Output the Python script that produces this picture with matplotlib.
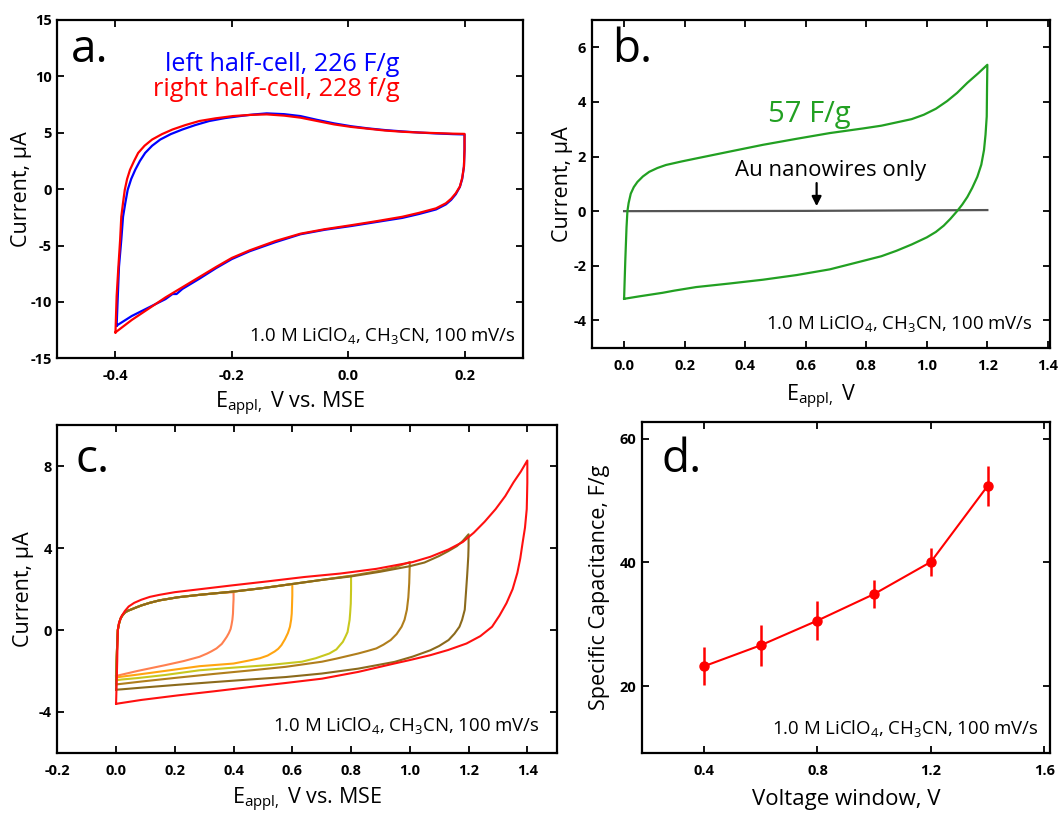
import numpy as np
import matplotlib
matplotlib.use('Agg')
import matplotlib.pyplot as plt

plt.rcParams['font.family'] = ['Open Sans', 'DejaVu Sans']
plt.rcParams['mathtext.fontset'] = 'custom'
plt.rcParams['mathtext.rm'] = 'Open Sans'
plt.rcParams['mathtext.it'] = 'Open Sans:italic'
plt.rcParams['axes.unicode_minus'] = False

# ---- panel a: CV of left / right half-cells (V vs. MSE, current in uA)
a_right_v = [-0.4, -0.398, -0.395, -0.392, -0.39, -0.387, -0.384, -0.38, -0.375, -0.368,
             -0.361, -0.35, -0.337, -0.32, -0.302, -0.28, -0.256, -0.228, -0.198, -0.17,
             -0.14, -0.11, -0.082, -0.054, -0.024, 0.005, 0.034, 0.063, 0.093, 0.122,
             0.151, 0.18, 0.2,
             0.2, 0.199, 0.196, 0.192, 0.185, 0.177, 0.168, 0.151, 0.122, 0.093, 0.05,
             0.005, -0.04, -0.082, -0.125, -0.169, -0.2, -0.227, -0.256, -0.285, -0.314,
             -0.343, -0.372, -0.4]
a_right_i = [-12.7, -9.5, -6.9, -4.5, -2.45, -1.2, -0.06, 0.9, 1.72, 2.5,
             3.21, 3.85, 4.4, 4.88, 5.29, 5.68, 6.04, 6.28, 6.48, 6.58,
             6.63, 6.52, 6.34, 6.05, 5.74, 5.52, 5.36, 5.2, 5.09, 5.02,
             4.97, 4.92, 4.9,
             3.5, 2.0, 1.0, 0.23, -0.36, -0.85, -1.25, -1.7, -2.1, -2.45, -2.83,
             -3.2, -3.55, -3.95, -4.6, -5.42, -6.1, -6.9, -7.8, -8.7, -9.6,
             -10.6, -11.6, -12.7]
a_left_v = [-0.398, -0.396, -0.394, -0.39, -0.387, -0.383, -0.379, -0.373, -0.366, -0.358,
            -0.349, -0.337, -0.323, -0.305, -0.285, -0.263, -0.239, -0.212, -0.186, -0.163,
            -0.14, -0.11, -0.082, -0.054, -0.024, 0.005, 0.034, 0.063, 0.093, 0.122,
            0.151, 0.18, 0.2,
            0.2, 0.199, 0.196, 0.192, 0.185, 0.177, 0.168, 0.151, 0.122, 0.093, 0.05,
            0.005, -0.04, -0.082, -0.125, -0.169, -0.2, -0.227, -0.256, -0.285, -0.295,
            -0.302, -0.314, -0.343, -0.372, -0.398]
a_left_i = [-12.1, -9.5, -6.9, -4.5, -2.45, -1.2, -0.06, 0.9, 1.72, 2.5,
            3.21, 3.85, 4.4, 4.88, 5.29, 5.68, 6.04, 6.3, 6.48, 6.62,
            6.72, 6.65, 6.48, 6.15, 5.83, 5.58, 5.39, 5.24, 5.12, 5.02,
            4.94, 4.88, 4.85,
            3.5, 2.0, 0.9, 0.2, -0.45, -0.95, -1.35, -1.8, -2.2, -2.55, -2.9,
            -3.27, -3.6, -4.0, -4.7, -5.5, -6.2, -7.0, -7.95, -8.85, -9.3,
            -9.3, -9.75, -10.5, -11.25, -12.1]

# ---- panel b: 57 F/g CV and bare Au nanowires
b_cv_v = [0.0, 0.002, 0.004, 0.006, 0.008, 0.011, 0.015, 0.022, 0.032, 0.044, 0.062,
          0.083, 0.11, 0.138, 0.19, 0.238, 0.348, 0.459, 0.57, 0.68, 0.79, 0.85, 0.90,
          0.95, 0.99, 1.03, 1.067, 1.10, 1.134, 1.17, 1.2,
          1.199, 1.198, 1.194, 1.189, 1.18, 1.167, 1.15, 1.134, 1.117, 1.1, 1.078, 1.056,
          1.03, 1.0, 0.95, 0.90, 0.85, 0.79, 0.68, 0.57, 0.459, 0.348, 0.238, 0.166,
          0.127, 0.05, 0.0]
b_cv_i = [-3.21, -2.5, -1.8, -1.2, -0.6, 0.0, 0.3, 0.64, 0.88, 1.07, 1.27,
          1.44, 1.58, 1.69, 1.82, 1.93, 2.18, 2.43, 2.65, 2.86, 3.03, 3.13, 3.25,
          3.37, 3.53, 3.75, 4.03, 4.33, 4.70, 5.05, 5.36,
          4.5, 3.47, 2.8, 2.24, 1.7, 1.26, 0.85, 0.52, 0.24, 0.0, -0.28, -0.53,
          -0.76, -0.96, -1.22, -1.45, -1.65, -1.82, -2.13, -2.34, -2.51, -2.65, -2.78, -2.91,
          -2.99, -3.12, -3.21]
b_au_v = [0.0, 0.6, 1.2]
b_au_i = [0.0, 0.01, 0.04]

# ---- panel c: CVs for increasing voltage windows
c_w04_v = [0.0, 0.002, 0.004, 0.006, 0.01, 0.015, 0.022, 0.03, 0.04, 0.051, 0.068, 0.086,
           0.115, 0.148, 0.21, 0.284, 0.34, 0.4,
           0.4, 0.399, 0.398, 0.396, 0.393, 0.39, 0.384, 0.377, 0.368, 0.36, 0.342, 0.325,
           0.31, 0.284, 0.23, 0.167, 0.074, 0.02, 0.0]
c_w04_i = [-2.25, -1.5, -0.6, 0.0, 0.3, 0.55, 0.72, 0.85, 0.94, 1.0, 1.1, 1.2,
           1.33, 1.45, 1.6, 1.72, 1.8, 1.85,
           1.5, 1.2, 0.8, 0.5, 0.25, 0.05, -0.15, -0.33, -0.52, -0.68, -0.9, -1.04,
           -1.15, -1.31, -1.52, -1.72, -2.0, -2.18, -2.25]
c_w06_v = [0.0, 0.002, 0.004, 0.006, 0.01, 0.015, 0.022, 0.03, 0.04, 0.051, 0.068, 0.086,
           0.115, 0.148, 0.21, 0.284, 0.4, 0.5, 0.6,
           0.6, 0.599, 0.598, 0.596, 0.592, 0.585, 0.575, 0.563, 0.552, 0.54, 0.516, 0.49,
           0.45, 0.4, 0.284, 0.167, 0.074, 0.02, 0.0]
c_w06_i = [-2.32, -1.5, -0.6, 0.0, 0.3, 0.55, 0.72, 0.85, 0.94, 1.0, 1.1, 1.2,
           1.33, 1.45, 1.6, 1.72, 1.88, 2.05, 2.25,
           1.7, 1.2, 0.8, 0.5, 0.16, -0.15, -0.45, -0.74, -0.92, -1.05, -1.25, -1.38,
           -1.5, -1.64, -1.77, -2.0, -2.18, -2.28, -2.32]
c_w08_v = [0.0, 0.002, 0.004, 0.006, 0.01, 0.015, 0.022, 0.03, 0.04, 0.051, 0.068, 0.086,
           0.115, 0.148, 0.21, 0.284, 0.4, 0.5, 0.6, 0.7, 0.8,
           0.8, 0.799, 0.797, 0.795, 0.788, 0.78, 0.772, 0.76, 0.75, 0.726, 0.7, 0.68,
           0.633, 0.516, 0.4, 0.284, 0.167, 0.074, 0.02, 0.0]
c_w08_i = [-2.46, -1.5, -0.6, 0.0, 0.3, 0.55, 0.72, 0.85, 0.94, 1.0, 1.1, 1.2,
           1.33, 1.45, 1.6, 1.72, 1.88, 2.05, 2.25, 2.45, 2.65,
           2.0, 1.3, 0.85, 0.49, -0.1, -0.35, -0.58, -0.78, -0.95, -1.15, -1.28, -1.38,
           -1.55, -1.72, -1.84, -1.97, -2.2, -2.35, -2.42, -2.46]
c_w10_v = [0.0, 0.002, 0.004, 0.006, 0.01, 0.015, 0.022, 0.03, 0.04, 0.051, 0.068, 0.086,
           0.115, 0.148, 0.21, 0.284, 0.4, 0.5, 0.6, 0.7, 0.8, 0.9, 0.95, 1.0,
           0.999, 0.998, 0.995, 0.99, 0.982, 0.972, 0.955, 0.935, 0.91, 0.886, 0.855, 0.824,
           0.75, 0.701, 0.578, 0.455, 0.332, 0.209, 0.086, 0.02, 0.0]
c_w10_i = [-2.66, -1.5, -0.6, 0.0, 0.3, 0.55, 0.72, 0.85, 0.94, 1.0, 1.1, 1.2,
           1.33, 1.45, 1.6, 1.72, 1.88, 2.05, 2.25, 2.45, 2.65, 2.9, 3.07, 3.32,
           2.8, 2.3, 1.6, 0.99, 0.5, 0.16, -0.2, -0.49, -0.72, -0.9, -1.03, -1.15,
           -1.4, -1.55, -1.8, -1.98, -2.15, -2.33, -2.52, -2.63, -2.66]
c_w12_v = [0.0, 0.002, 0.004, 0.006, 0.01, 0.015, 0.022, 0.03, 0.04, 0.051, 0.068, 0.086,
           0.115, 0.148, 0.21, 0.284, 0.4, 0.5, 0.6, 0.7, 0.8, 0.9, 1.0, 1.05, 1.1, 1.13,
           1.16, 1.18, 1.2,
           1.2, 1.199, 1.197, 1.195, 1.191, 1.187, 1.178, 1.169, 1.152, 1.132, 1.1, 1.07,
           1.01, 0.948, 0.824, 0.70, 0.578, 0.455, 0.33, 0.209, 0.086, 0.02, 0.0]
c_w12_i = [-2.92, -1.5, -0.6, 0.0, 0.3, 0.55, 0.72, 0.85, 0.94, 1.0, 1.1, 1.2,
           1.33, 1.45, 1.6, 1.72, 1.88, 2.05, 2.25, 2.45, 2.62, 2.85, 3.12, 3.3, 3.62, 3.85,
           4.1, 4.35, 4.68,
           4.1, 3.6, 3.1, 2.63, 1.8, 0.99, 0.5, 0.16, -0.18, -0.49, -0.78, -0.99,
           -1.3, -1.56, -1.89, -2.13, -2.3, -2.42, -2.55, -2.68, -2.82, -2.9, -2.92]
c_w14_v = [0.0, 0.002, 0.004, 0.005, 0.006, 0.01, 0.018, 0.03, 0.043, 0.062, 0.086, 0.115,
           0.148, 0.2, 0.271, 0.394, 0.517, 0.64, 0.763, 0.886, 1.009, 1.07, 1.132, 1.18,
           1.218, 1.255, 1.292, 1.325, 1.353, 1.378, 1.4,
           1.4, 1.399, 1.398, 1.392, 1.384, 1.376, 1.366, 1.35, 1.329, 1.305, 1.28, 1.24,
           1.193, 1.13, 1.07, 1.0, 0.947, 0.824, 0.701, 0.578, 0.455, 0.332, 0.209, 0.086, 0.0]
c_w14_i = [-3.61, -2.6, -1.48, -0.7, 0.0, 0.35, 0.66, 0.93, 1.15, 1.33, 1.48, 1.62,
           1.72, 1.85, 1.97, 2.18, 2.38, 2.59, 2.76, 2.99, 3.32, 3.58, 3.94, 4.3,
           4.76, 5.3, 5.91, 6.55, 7.22, 7.75, 8.29,
           7.2, 6.5, 5.91, 5.0, 4.27, 3.5, 2.79, 2.0, 1.31, 0.7, 0.16, -0.3,
           -0.66, -0.98, -1.23, -1.47, -1.64, -2.05, -2.38, -2.59, -2.79, -3.0, -3.2, -3.42, -3.61]
c_colors = ['#FF8050', '#FFA511', '#C8C81E', '#B07E1C', '#8B6A1C', '#FF1010']

# ---- panel d: specific capacitance vs. voltage window
d_window = [0.4, 0.6, 0.8, 1.0, 1.2, 1.4]
d_cap = [23.2, 26.6, 30.6, 34.9, 40.1, 52.4]
d_err = [3.1, 3.3, 3.1, 2.2, 2.3, 3.3]

W, H = 1058, 813
fig = plt.figure(figsize=(W / 100, H / 100), dpi=100)


def add_ax(left, top, right, bottom):
    return fig.add_axes([left / W, 1 - bottom / H, (right - left) / W, (bottom - top) / H])


ax_a = add_ax(57.3, 20, 522.7, 358.3)
ax_b = add_ax(591.7, 20, 1050, 347.7)
ax_c = add_ax(57.3, 425.5, 556.7, 752.7)
ax_d = add_ax(641.7, 421.7, 1050, 752.7)

cond = r'1.0 M LiClO$_4$, CH$_3$CN, 100 mV/s'
tick_font = dict(fontsize=10.5, fontweight='bold')

for ax in (ax_a, ax_b, ax_c, ax_d):
    for s in ax.spines.values():
        s.set_linewidth(1.6)
    ax.tick_params(direction='in', top=True, right=True, length=5, width=1.3)
    ax.tick_params(axis='x', pad=8)
    ax.tick_params(axis='y', pad=4)

# panel a
ax_a.plot(a_left_v, a_left_i, color='#0000FF', lw=1.6)
ax_a.plot(a_right_v, a_right_i, color='#FF0000', lw=1.6)
ax_a.set_xlim(-0.5, 0.3)
ax_a.set_ylim(-15, 15)
ax_a.set_xticks([-0.4, -0.2, 0.0, 0.2])
ax_a.set_xticklabels(['-0.4', '-0.2', '0.0', '0.2'], **tick_font)
ax_a.set_yticks([-15, -10, -5, 0, 5, 10, 15])
ax_a.set_yticklabels(['-15', '-10', '-5', '0', '5', '10', '15'], **tick_font)
ax_a.text(-0.477, 11.25, 'a.', fontsize=33)
ax_a.text(0.089, 10.5, 'left half-cell, 226 F/g', color='#0000FF', fontsize=18.2, ha='right')
ax_a.text(0.089, 8.27, 'right half-cell, 228 f/g', color='#FF0000', fontsize=18.2, ha='right')
ax_a.text(0.288, -13.45, cond, fontsize=13.4, ha='right')
ax_a.set_xlabel(r'E$_{\mathrm{appl,}}$ V vs. MSE', fontsize=15.5)
ax_a.set_ylabel('Current, μA', fontsize=15.5)
ax_a.xaxis.set_label_coords(0.5, -0.094)
ax_a.yaxis.set_label_coords(-0.054, 0.5)

# panel b
ax_b.plot(b_au_v, b_au_i, color='#555555', lw=1.6)
ax_b.plot(b_cv_v, b_cv_i, color='#22A022', lw=1.6)
ax_b.set_xlim(-0.107, 1.407)
ax_b.set_ylim(-5, 7)
ax_b.set_xticks(np.arange(0, 1.41, 0.2))
ax_b.set_xticklabels(['0.0', '0.2', '0.4', '0.6', '0.8', '1.0', '1.2', '1.4'], **tick_font)
ax_b.set_yticks([-4, -2, 0, 2, 4, 6])
ax_b.set_yticklabels(['-4', '-2', '0', '2', '4', '6'], **tick_font)
ax_b.text(-0.04, 5.47, 'b.', fontsize=33)
ax_b.text(0.476, 3.25, '57 F/g', color='#22A022', fontsize=21)
ax_b.text(0.682, 1.28, 'Au nanowires only', fontsize=16, ha='center')
ax_b.annotate('', xy=(0.636, 0.08), xytext=(0.636, 1.13),
              arrowprops=dict(arrowstyle='-|>', color='black', lw=1.6, mutation_scale=14))
ax_b.text(1.35, -4.3, cond, fontsize=13.4, ha='right')
ax_b.set_xlabel(r'E$_{\mathrm{appl,}}$ V', fontsize=15.5)
ax_b.set_ylabel('Current, μA', fontsize=15.5)
ax_b.xaxis.set_label_coords(0.5, -0.108)
ax_b.yaxis.set_label_coords(-0.041, 0.5)

# panel c
c_curves = [(c_w04_v, c_w04_i), (c_w06_v, c_w06_i), (c_w08_v, c_w08_i),
            (c_w10_v, c_w10_i), (c_w12_v, c_w12_i), (c_w14_v, c_w14_i)]
for (v, i), col in zip(c_curves, c_colors):
    ax_c.plot(v, i, color=col, lw=1.5)
ax_c.set_xlim(-0.2, 1.5)
ax_c.set_ylim(-6, 10)
ax_c.set_xticks(np.arange(-0.2, 1.41, 0.2))
ax_c.set_xticklabels(['-0.2', '0.0', '0.2', '0.4', '0.6', '0.8', '1.0', '1.2', '1.4'], **tick_font)
ax_c.set_yticks([-4, 0, 4, 8])
ax_c.set_yticklabels(['-4', '0', '4', '8'], **tick_font)
ax_c.text(-0.138, 7.74, 'c.', fontsize=33)
ax_c.text(1.442, -4.92, cond, fontsize=13.4, ha='right')
ax_c.set_xlabel(r'E$_{\mathrm{appl,}}$ V vs. MSE', fontsize=15.5)
ax_c.set_ylabel('Current, μA', fontsize=15.5)
ax_c.xaxis.set_label_coords(0.5, -0.1)
ax_c.yaxis.set_label_coords(-0.047, 0.5)

# panel d
ax_d.errorbar(d_window, d_cap, yerr=d_err, color='#FF0000', lw=1.5, marker='o',
              markersize=6.5, elinewidth=1.8, capsize=0)
ax_d.set_xlim(0.18, 1.62)
ax_d.set_ylim(9.2, 62.8)
ax_d.set_xticks([0.4, 0.8, 1.2, 1.6])
ax_d.set_xticklabels(['0.4', '0.8', '1.2', '1.6'], **tick_font)
ax_d.set_yticks([20, 40, 60])
ax_d.set_yticklabels(['20', '40', '60'], **tick_font)
ax_d.text(0.25, 54.6, 'd.', fontsize=33)
ax_d.text(1.579, 12.2, cond, fontsize=13.4, ha='right')
ax_d.set_xlabel('Voltage window, V', fontsize=16)
ax_d.set_ylabel('Specific Capacitance, F/g', fontsize=15.5)
ax_d.xaxis.set_label_coords(0.5, -0.11)
ax_d.yaxis.set_label_coords(-0.078, 0.5)

fig.savefig('out.png', dpi=100)
